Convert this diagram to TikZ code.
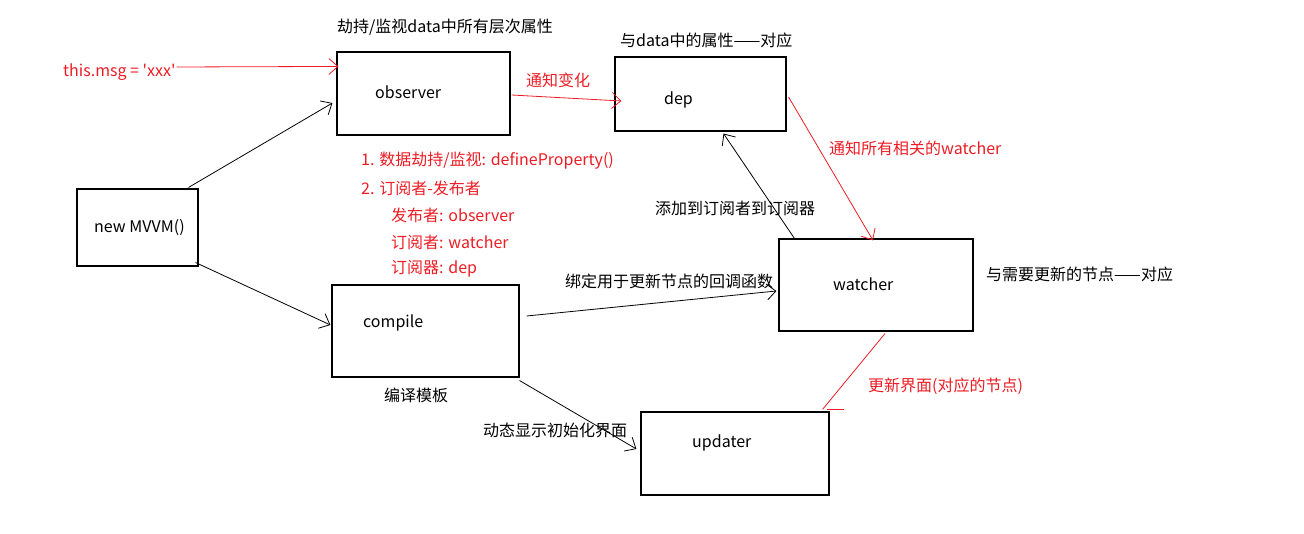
\documentclass[tikz,border=0pt]{standalone}
\usepackage{fontspec}
\setmainfont{Noto Sans CJK SC}
\usetikzlibrary{arrows.meta,calc}
\definecolor{pred}{HTML}{ED1C24}
\begin{document}
\begin{tikzpicture}[x=1pt,y=-1pt,
  box/.style={draw,line width=1.1pt,inner sep=0pt},
  txt/.style={anchor=west,inner sep=0pt,font=\fontsize{16}{19}\selectfont},
  rtxt/.style={txt,text=pred},
  conn/.style={line width=0.8pt,-{Straight Barb[length=9pt,width=16pt,line width=0.8pt]}},
  rconn/.style={conn,draw=pred}]
\useasboundingbox (0,0) rectangle (1304,534);
% boxes
\node[box,minimum width=173pt,minimum height=83pt] (obs) at (423.5,93.5) {};
\node[box,minimum width=171pt,minimum height=74pt] (dep) at (700.5,94) {};
\node[box,minimum width=121pt,minimum height=77pt] (mvvm) at (137.5,227.5) {};
\node[box,minimum width=187pt,minimum height=92pt] (comp) at (425.5,331) {};
\node[box,minimum width=194pt,minimum height=92pt] (wat) at (876,285) {};
\node[box,minimum width=188pt,minimum height=83pt] (upd) at (735,453.5) {};
% box texts
\node[txt] (tobs) at (375,92) {observer};
\node[txt] (tdep) at (664,100) {dep};
\node[txt] (tmvvm) at (94,228) {new MVVM()};
\node[txt] (tcomp) at (363,323) {compile};
\node[txt] (twat) at (833,284) {watcher};
\node[txt] (tupd) at (692,443) {updater};
% labels
\node[txt] (l1) at (337,27) {劫持/监视data中所有层次属性};
\node[txt] (l2) at (620,40) {与data中的属性——对应};
\node[rtxt] (msg) at (63,72) {this.msg = \textquotesingle xxx\textquotesingle};
\node[rtxt] (l3) at (526,80) {通知变化};
\node[rtxt] (l4) at (829,148) {通知所有相关的watcher};
\node[rtxt] (a1) at (361,161) {1. 数据劫持/监视: defineProperty()};
\node[rtxt] (a2) at (361,188) {2. 订阅者-发布者};
\node[rtxt] (a3) at (391,215) {发布者: observer};
\node[rtxt] (a4) at (391,242) {订阅者: watcher};
\node[rtxt] (a5) at (391,269) {订阅器: dep};
\node[txt] (l5) at (655,208) {添加到订阅者到订阅器};
\node[txt] (l6) at (565,281) {绑定用于更新节点的回调函数};
\node[txt] (l7) at (986,274) {与需要更新的节点——对应};
\node[txt] (l8) at (384,395) {编译模板};
\node[txt] (l9) at (483,430) {动态显示初始化界面};
\node[rtxt] (l10) at (868,386) {更新界面(对应的节点)};
% connectors
\draw[rconn] ($(msg.east)+(1,-5)$) -- ($(obs.north west)+(2,15)$);
\draw[rconn] ($(obs.east)+(1,1.5)$) -- ($(dep.west)+(7,7)$);
\draw[conn] ($(mvvm.north east)+(-10,-1)$) -- ($(obs.west)+(-4,9.5)$);
\draw[conn] ($(mvvm.south east)+(-3,-4)$) -- ($(comp.west)+(-1,-6)$);
\draw[conn] ($(comp.east)+(7,-15)$) -- ($(wat.west)+(-2,6)$);
\draw[conn] ($(comp.south east)+(0,3)$) -- ($(upd.west)+(-4,-4.5)$);
\draw[conn] ($(wat.north west)+(16,0)$) -- ($(dep.south)+(23,2)$);
\draw[rconn] ($(dep.east)+(2,3)$) -- ($(wat.north)+(-3,2)$);
\draw[draw=pred,line width=0.8pt] ($(wat.south)+(9,2)$) -- ($(upd.north east)+(-7,-2)$) coordinate (ue);
\draw[draw=pred,line width=0.8pt] ($(ue)+(4,0)$) -- ($(ue)+(21,0)$);
\end{tikzpicture}
\end{document}
